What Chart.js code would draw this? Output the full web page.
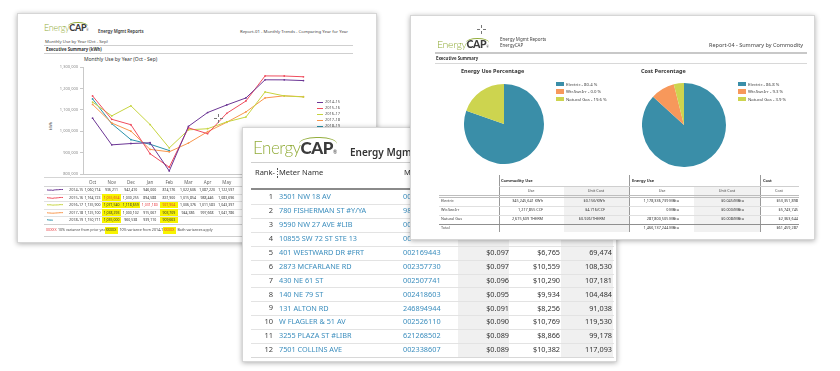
<!DOCTYPE html>
<html><head><meta charset="utf-8">
<script src="https://cdn.jsdelivr.net/npm/chart.js@4.4.1/dist/chart.umd.min.js"></script>
<style>
html,body{margin:0;padding:0;background:#fff;}
body{width:840px;height:371px;overflow:hidden;position:relative;font-family:"Noto Sans",sans-serif;color:#333;}
.card{position:absolute;background:#fff;border:1px solid #d6d6d6;box-shadow:0 1px 5px rgba(0,0,0,0.32);overflow:hidden;box-sizing:border-box;}
.t{position:absolute;white-space:nowrap;}
canvas{position:absolute;}
</style></head><body>
<script>
// ---------- DATA ----------
const months=['Oct','Nov','Dec','Jan','Feb','Mar','Apr','May','Jun','Jul','Aug','Sep'];
const years=['2014-15','2015-16','2016-17','2017-18','2018-19'];
const use1415=[1060714,936211,942410,946000,814176,1022606,1087220,1122597,1155310,1240180,1239870,1236540];
const use1516=[1164723,1055654,1030255,894588,831900,1015854,988446,1083696,1141020,1258340,1257910,1254300];
const use1617=[1135900,1071540,1118659,1031180,921904,1006376,1011583,1043397,1066210,1183450,1164800,1160200];
const use1718=[1125100,1038293,1000102,915067,903709,944386,997668,1041786,1090120,1155400,1165300,1161000];
const use1819=[1150711,1035000,960538,939110,909663,null,null,null,null,null,null,null];
const yTicks=[800000,900000,1000000,1100000,1200000,1300000];
// variance flags per cell: y = 10% from 2014-15, r = 10% from prior year, yr = both
const flag1415=['','','','','','','','','','','',''];
const flag1516=['','yr','','','','','','','','','',''];
const flag1617=['','y','y','r','yr','','','','','','',''];
const flag1718=['','y','','','y','','','','','','',''];
const flag1819=['','y','','','y','','','','','','',''];

const commodities=['Electric','Wtr.Swr.Irr','Natural Gas'];
const energyPct=[80.4,0.0,19.6];
const costPct=[86.8,9.3,3.9];
const commUse=['345,245,641 KWh','1,217,855 CCF','2,675,609 THERM'];
const commUnitCost=['$0.156/KWh','$4.716/CCF','$0.926/THERM'];
const energyUse=['1,178,336,739 MBtu','0 MBtu','287,800,505 MBtu'];
const energyUnitCost=['$0.045/MBtu','$0.000/MBtu','$0.008/MBtu'];
const commCost=['$53,351,898','$5,743,745','$2,363,644'];
const totalEnergyUse='1,466,137,244 MBtu';
const totalCost='$61,459,287';

const ranks=[1,2,3,4,5,6,7,8,9,10,11,12];
const meterNames=['3501 NW 18 AV','780 FISHERMAN ST #Y/YA','9590 NW 27 AVE #LIB','10855 SW 72 ST STE 13','401 WESTWARD DR #FRT','2873 MCFARLANE RD','430 NE 61 ST','140 NE 79 ST','131 ALTON RD','W FLAGLER & 51 AV','3255 PLAZA ST #LIBR','7501 COLLINS AVE'];
const meterNumbers=['00','98','00','00','002169443','002357730','002507741','002418603','246894944','002526110','621268502','002338607'];
const meterUnitCost=['','','','','$0.097','$0.097','$0.096','$0.095','$0.091','$0.090','$0.089','$0.089'];
const meterCost=['','','','','$6,765','$10,559','$10,290','$9,934','$8,256','$10,769','$8,866','$10,382'];
const meterUse=['','','','','69,474','108,530','107,181','104,484','91,038','119,530','99,178','117,093'];

// ---------- STYLE ----------
const lineColors=['#6b3594','#ef4d5e','#c6d43f','#f8964c','#2b93ab'];
const pieColors=['#3a8ea8','#f7985b','#cdd44f'];
const seriesData=[use1415,use1516,use1617,use1718,use1819];
const seriesFlags=[flag1415,flag1516,flag1617,flag1718,flag1819];
Chart.defaults.font.family='"Noto Sans", sans-serif';

// ---------- HELPERS ----------
function card(x,y,w,h,z){const d=document.createElement('div');d.className='card';Object.assign(d.style,{left:x+'px',top:y+'px',width:w+'px',height:h+'px',zIndex:z});document.body.appendChild(d);return {x,y,el:d};}
function txt(c,s,x,y,o){o=o||{};const fs=o.fs||5;const d=document.createElement('div');d.className='t';d.textContent=s;
  const st={fontSize:fs+'px',lineHeight:fs+'px',top:(y-c.y-fs/2)+'px',left:(x-c.x)+'px',color:o.color||'#333',fontWeight:o.w||400};
  if(o.a==='r')st.transform='translateX(-100%)';
  else if(o.a==='c')st.transform='translateX(-50%)';
  if(o.rot)st.transform=(st.transform||'')+' rotate('+o.rot+'deg)';
  if(o.ff)st.fontFamily=o.ff; if(o.ls)st.letterSpacing=o.ls;
  Object.assign(d.style,st);c.el.appendChild(d);return d;}
function rect(c,x,y,w,h,col){const d=document.createElement('div');Object.assign(d.style,{position:'absolute',left:(x-c.x)+'px',top:(y-c.y)+'px',width:w+'px',height:h+'px',background:col});c.el.appendChild(d);return d;}
function hl(c,x1,x2,y,col,t){return rect(c,x1,y,x2-x1,t||1,col||'#d0d0d0');}
function vl(c,x,y1,y2,col,t){return rect(c,x,y1,t||1,y2-y1,col||'#d0d0d0');}
function cv(c,x,y,w,h){const k=document.createElement('canvas');k.width=w;k.height=h;Object.assign(k.style,{left:(x-c.x)+'px',top:(y-c.y)+'px',width:w+'px',height:h+'px'});c.el.appendChild(k);return k;}
function logo(c,x,y,fs){const d=document.createElement('div');d.className='t';
  Object.assign(d.style,{left:(x-c.x)+'px',top:(y-c.y-fs*0.62)+'px',fontSize:fs+'px',lineHeight:(fs*1.2)+'px',fontFamily:'Lato, sans-serif',letterSpacing:(-fs*0.03)+'px'});
  d.innerHTML='<span style="color:#93ad3c;font-weight:300">Energy</span><span style="color:#3b3b3b;font-weight:900;position:relative">CAP<span style="position:absolute;left:-4%;top:'+(-fs*0.05)+'px;width:105%;height:'+(fs*0.45)+'px;border-top:'+Math.max(1,fs*0.09)+'px solid #93ad3c;border-radius:50% 50% 0 0/100% 100% 0 0;box-sizing:border-box"></span><span style="font-size:'+(fs*0.3)+'px;font-weight:400">®</span></span>';
  c.el.appendChild(d);}
function cross(c,x,y){const g='#777';for(const [dx,dy,w,h] of [[-4,0,3,1],[2,0,3,1],[0,-4,1,3],[0,2,1,3]])rect(c,x+dx,y+dy,w,h,g);}
const fmt=v=>v==null?'':v.toLocaleString('en-US');

// ---------- CARD 1 : Monthly trends ----------
const c1=card(17,13,360,230,1);
logo(c1,43,28,9);
txt(c1,'Energy Mgmt Reports',97,30,{fs:4.3,w:600});
txt(c1,'Report-01 - Monthly Trends - Comparing Year for Year',347,30,{fs:4.3,a:'r',color:'#444'});
txt(c1,'Monthly Use by Year (Oct - Sep)',44,40,{fs:4.3,color:'#444'});
hl(c1,43,352,44,'#cfcfcf');
txt(c1,'Executive Summary  (kWh)',45,48,{fs:4.3,w:700});
hl(c1,43,352,52,'#cfcfcf');
txt(c1,'Monthly Use by Year (Oct - Sep)',83,58,{fs:5,color:'#333'});
txt(c1,'kWh',50,125,{fs:4,a:'c',rot:-90,color:'#666'});
const lc=cv(c1,40,52,300,136);
new Chart(lc,{type:'line',
  data:{labels:months,datasets:years.map((y,i)=>({label:y,data:seriesData[i],borderColor:lineColors[i],backgroundColor:lineColors[i],borderWidth:1,pointRadius:0.9,pointBorderWidth:0,tension:0}))},
  options:{responsive:false,animation:false,devicePixelRatio:1,layout:{padding:{top:14,right:28,left:0,bottom:0}},
    plugins:{legend:{display:false},tooltip:{enabled:false}},
    scales:{
      x:{offset:true,grid:{drawOnChartArea:false,drawTicks:false},border:{color:'#c9c9c9'},ticks:{font:{size:4.5},color:'#666',padding:6,maxRotation:0,autoSkip:false},afterFit(s){s.height=15;}},
      y:{min:800000,max:1300000,afterBuildTicks(s){s.ticks=yTicks.map(v=>({value:v}));},ticks:{font:{size:4},color:'#8a8a8a',padding:2,callback:v=>v.toLocaleString('en-US')},grid:{drawOnChartArea:false,tickLength:3,color:'#c9c9c9'},border:{color:'#c9c9c9'},afterFit(s){s.width=42;}}
    }}});
// chart legend
years.forEach((y,i)=>{const yy=101+i*6;hl(c1,316,322,yy,lineColors[i],1);txt(c1,y,324,yy,{fs:4,color:'#555'});});
cross(c1,217,117);
// data table under chart (columns past the front card's left edge are covered, so they are not drawn)
const colX=i=>91.5+i*19.1;
const visibleCols=months.map((m,i)=>i).filter(i=>colX(i)+9<242);
hl(c1,43,377,176,'#d5d5d5');
hl(c1,43,377,185,'#d5d5d5');
years.forEach((y,r)=>{
  const yc=189+r*7.5;
  hl(c1,43,377,yc+3.7,'#e2e2e2');
  const sp=cv(c1,45,yc-3,18,6);
  new Chart(sp,{type:'line',data:{labels:months,datasets:[{data:seriesData[r],borderColor:lineColors[r],borderWidth:1,pointRadius:0,tension:0.3}]},
    options:{responsive:false,animation:false,devicePixelRatio:1,layout:{padding:1},plugins:{legend:{display:false},tooltip:{enabled:false}},scales:{x:{display:false},y:{display:false}}}});
  txt(c1,y,68,yc,{fs:3.8,color:'#444'});
  visibleCols.forEach(i=>{
    const v=seriesData[r][i];
    const f=seriesFlags[r][i];
    if(f.includes('y'))rect(c1,colX(i)-9.3,yc-3.4,18.6,6.8,'#f7f300');
    if(v!=null)txt(c1,fmt(v),colX(i),yc,{fs:3.5,a:'c',color:f.includes('r')?'#e8383d':'#333'});
  });
});
hl(c1,43,377,222.5,'#cfcfcf');
txt(c1,'XXXXX',45,229,{fs:3.6,color:'#e8383d'});
txt(c1,'10% variance from prior year',57,229,{fs:3.6,color:'#444'});
rect(c1,103.5,225.5,13,7,'#f7f300');txt(c1,'XXXXX',110,229,{fs:3.6,a:'c',color:'#333'});
txt(c1,'10% variance from 2014-15',118.5,229,{fs:3.6,color:'#444'});
rect(c1,161.5,225.5,13,7,'#f7f300');txt(c1,'XXXXX',168,229,{fs:3.6,a:'c',color:'#e8383d'});
txt(c1,'Both variances apply',176.5,229,{fs:3.6,color:'#444'});
hl(c1,43,377,235,'#cfcfcf');

// ---------- CARD 3 : Meter ranking ----------
const c3=card(242,127,375,235,2);
logo(c3,252,148,17);
txt(c3,'Energy Mgmt',349,151,{fs:10,w:600,color:'#333'});
hl(c3,250,613,161,'#cfcfcf');
txt(c3,'Rank-',254,172,{fs:7.5,color:'#333'});
for(let i=0;i<4;i++)rect(c3,276,167+i*2.8,1,1.6,'#555');
txt(c3,'Meter Name',278,172,{fs:7.5,color:'#333'});
txt(c3,'Meter Number',403,172,{fs:7.5,color:'#333'});
rect(c3,457,189,51,167,'#f0f0f0');
rect(c3,560,189,52,167,'#f0f0f0');
hl(c3,250,613,187,'#8a8a8a',2);
ranks.forEach((r,i)=>{
  const yc=196+i*13.9;
  if(i<11)hl(c3,250,613,yc+7,'#e3e3e3',1);
  txt(c3,String(r),272,yc,{fs:7.5,a:'r',color:'#444'});
  txt(c3,meterNames[i],278,yc,{fs:7.3,color:'#3a8dbd'});
  txt(c3,meterNumbers[i],402,yc,{fs:7.3,color:'#3a8dbd'});
  txt(c3,meterUnitCost[i],508,yc,{fs:7.3,a:'r',color:'#333'});
  txt(c3,meterCost[i],559,yc,{fs:7.3,a:'r',color:'#333'});
  txt(c3,meterUse[i],611,yc,{fs:7.3,a:'r',color:'#333'});
});
hl(c3,250,613,356,'#d8d8d8');

// ---------- CARD 2 : Summary by commodity ----------
const c2=card(410,15,405,225,3);
cross(c2,480,28);
logo(c2,436,44,10.5);
txt(c2,'Energy Mgmt Reports',499,38.5,{fs:4.5,color:'#444'});
txt(c2,'EnergyCAP',499,44.5,{fs:4.5,color:'#444'});
txt(c2,'Report-04 - Summary by Commodity',802,45,{fs:5.5,a:'r',color:'#444'});
hl(c2,434,806,51,'#c8c8c8',1.5);
txt(c2,'Executive Summary',435,57,{fs:4.3,w:700});
hl(c2,434,806,62,'#d8d8d8');
txt(c2,'Energy Use Percentage',460,71,{fs:5.5,w:700});
txt(c2,'Cost Percentage',640,71,{fs:5.5,w:700});
function pie(x,y,s,vals){const k=cv(c2,x,y,s,s);
  new Chart(k,{type:'pie',data:{labels:commodities,datasets:[{data:vals,backgroundColor:pieColors,borderWidth:0}]},
   options:{responsive:false,animation:false,devicePixelRatio:1,layout:{padding:0},plugins:{legend:{display:false},tooltip:{enabled:false}}}});}
pie(463,83,80,energyPct);
pie(641,82,84,costPct);
commodities.forEach((n,i)=>{
  const yy=83+i*7.5;
  rect(c2,555,yy-2.2,8,4.4,pieColors[i]);
  txt(c2,n+' - '+energyPct[i].toFixed(1)+' %',565,yy,{fs:4.3,color:'#444'});
  rect(c2,737,yy-2.2,8,4.4,pieColors[i]);
  txt(c2,n+' - '+costPct[i].toFixed(1)+' %',747,yy,{fs:4.3,color:'#444'});
});
// table
rect(c2,563,185,65,46,'#f1f1f1');
rect(c2,693,185,66,46,'#f1f1f1');
vl(c2,498,174,231,'#9a9a9a');vl(c2,628,174,231,'#9a9a9a');vl(c2,759,174,231,'#9a9a9a');
txt(c2,'Commodity Use',500,179.5,{fs:4,w:700});
txt(c2,'Energy Use',631,179.5,{fs:4,w:700});
txt(c2,'Cost',762,179.5,{fs:4,w:700});
hl(c2,498,798,184.5,'#cfcfcf');
[['Use',530],['Unit Cost',595],['Use',661],['Unit Cost',726],['Cost',778]].forEach(([s,x])=>txt(c2,s,x,190,{fs:3.8,a:'c',color:'#444'}));
hl(c2,438,798,193.5,'#bdbdbd');hl(c2,438,798,195.5,'#bdbdbd');
commodities.forEach((n,i)=>{
  const yc=200+i*9;
  txt(c2,n,440,yc,{fs:3.8,color:'#444'});
  txt(c2,commUse[i],542,yc,{fs:3.8,a:'r',color:'#333'});
  txt(c2,commUnitCost[i],604,yc,{fs:3.8,a:'r',color:'#333'});
  txt(c2,energyUse[i],678,yc,{fs:3.8,a:'r',color:'#333'});
  txt(c2,energyUnitCost[i],743,yc,{fs:3.8,a:'r',color:'#333'});
  txt(c2,commCost[i],797,yc,{fs:3.8,a:'r',color:'#333'});
  hl(c2,438,798,yc+4.5,i===2?'#8f8f8f':'#e0e0e0');
});
txt(c2,'Total',440,227,{fs:3.8,color:'#444'});
txt(c2,totalEnergyUse,678,227,{fs:3.8,a:'r',color:'#333'});
txt(c2,totalCost,797,227,{fs:3.8,a:'r',color:'#333'});
</script>
</body></html>
